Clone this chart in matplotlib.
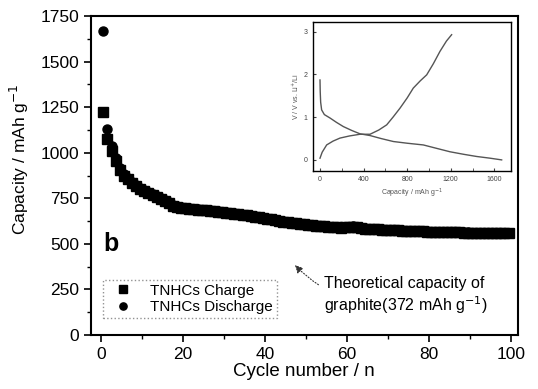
import numpy as np
import matplotlib.pyplot as plt

plt.rcParams['font.family'] = ['Liberation Sans', 'DejaVu Sans']

# main cycling data
cycle = np.arange(1, 101) - 0.5
charge = [1225, 1075, 1010, 955, 905, 875, 855, 835, 815, 800,
          790, 780, 770, 755, 745, 735, 722, 710, 702, 698,
          695, 692, 690, 688, 686, 684, 682, 680, 677, 674,
          671, 668, 665, 662, 660, 657, 654, 650, 646, 642,
          638, 634, 630, 626, 622, 619, 616, 613, 610, 607,
          604, 602, 600, 598, 596, 594, 592, 590, 588, 590,
          592, 595, 592, 587, 584, 582, 580, 579, 578, 577,
          576, 575, 574, 573, 572, 571, 570, 569, 568, 567,
          566, 566, 565, 565, 564, 564, 563, 563, 562, 562,
          561, 561, 560, 560, 560, 559, 559, 559, 558, 558]
discharge = [1670, 1128, 1035, 970, 918, 885, 862, 842, 822, 806,
             795, 785, 774, 760, 750, 740, 727, 714, 705, 700,
             697, 694, 692, 690, 688, 686, 684, 682, 679, 676,
             673, 670, 667, 664, 661, 658, 655, 651, 647, 643,
             639, 635, 631, 627, 623, 620, 617, 614, 611, 608,
             605, 603, 601, 599, 597, 595, 593, 591, 589, 591,
             594, 597, 593, 588, 585, 583, 581, 580, 579, 578,
             577, 576, 575, 574, 573, 572, 571, 570, 569, 568,
             567, 567, 566, 566, 565, 565, 564, 564, 563, 563,
             562, 562, 561, 561, 561, 560, 560, 560, 559, 559]

# inset voltage profiles
ins_dis_cap = [0, 2, 6, 15, 40, 92, 150, 214, 290, 367, 459, 560, 673, 800,
               948, 1070, 1193, 1320, 1437, 1560, 1667]
ins_dis_v = [1.87, 1.60, 1.35, 1.17, 1.06, 0.98, 0.88, 0.78, 0.69, 0.61, 0.57,
             0.50, 0.43, 0.39, 0.35, 0.27, 0.19, 0.13, 0.08, 0.04, 0.0]
ins_chg_cap = [0, 20, 61, 120, 183, 270, 367, 459, 540, 612, 670, 734, 800,
               856, 920, 979, 1040, 1101, 1160, 1208]
ins_chg_v = [0.04, 0.18, 0.35, 0.44, 0.51, 0.56, 0.60, 0.60, 0.70, 0.82, 1.00,
             1.21, 1.45, 1.68, 1.85, 1.99, 2.25, 2.54, 2.78, 2.93]

W, H = 538, 389
fig = plt.figure(figsize=(W / 100, H / 100), dpi=100)
ax = fig.add_axes([90.7 / W, 1 - 335 / H, (518 - 90.7) / W, (335 - 16) / H])

ax.plot(cycle, charge, 's', color='black', ms=6.5, label='TNHCs Charge')
ax.plot(cycle, discharge, 'o', color='black', ms=6.5, label='TNHCs Discharge')

ax.set_xlim(-2.6, 101.8)
ax.set_ylim(0, 1750)
ax.set_xticks(range(0, 101, 20))
ax.set_xticks(range(10, 101, 20), minor=True)
ax.set_yticks(range(0, 1751, 250))
ax.set_yticks(range(125, 1750, 250), minor=True)
ax.tick_params(which='major', direction='out', length=5, width=1.2, labelsize=12.5)
ax.tick_params(which='minor', direction='out', length=3, width=1)
for s in ax.spines.values():
    s.set_linewidth(1.5)

ax.set_xlabel('Cycle number / n', fontsize=13.5, labelpad=1)
ax.set_ylabel('Capacity / mAh g$^{-1}$', fontsize=12.5, labelpad=4)
ax.yaxis.set_label_coords(-0.14, 0.55)

ax.text(0.5, 500, 'b', fontsize=18, fontweight='bold', va='center')

leg = ax.legend(loc='lower left', bbox_to_anchor=(0.012, 0.03), fontsize=11,
                frameon=True, fancybox=False, handletextpad=0.8, markerscale=0.8,
                borderpad=0.25, labelspacing=0.15, handlelength=2.0)
leg.get_frame().set_edgecolor('#777777')
leg.get_frame().set_linestyle(':')
leg.get_frame().set_linewidth(1)

ax.annotate('Theoretical capacity of\ngraphite(372 mAh g$^{-1}$)',
            xy=(47.3, 384), xytext=(54.3, 215), fontsize=11.5, va='center',
            arrowprops=dict(arrowstyle='-|>', color='#333333', lw=0.8,
                            linestyle=':', connectionstyle='arc3,rad=-0.3',
                            shrinkA=2, shrinkB=0))

# inset
ins = fig.add_axes([312.7 / W, 1 - 171 / H, (510.7 - 312.7) / W, (171 - 22.3) / H])
ins.plot(ins_dis_cap, ins_dis_v, color='#555555', lw=1)
ins.plot(ins_chg_cap, ins_chg_v, color='#555555', lw=1)
ins.set_xlim(-67, 1750)
ins.set_ylim(-0.26, 3.22)
ins.set_xticks(range(0, 1601, 400))
ins.set_xticks(range(200, 1700, 400), minor=True)
ins.set_yticks([0, 1, 2, 3])
ins.tick_params(which='both', direction='in', labelsize=5, length=2, colors='#444444')
ins.set_xlabel('Capacity / mAh g$^{-1}$', fontsize=5, color='#555555', labelpad=3)
ins.set_ylabel('V / V vs. Li$^{+}$/Li', fontsize=5, color='#555555', labelpad=2)
for s in ins.spines.values():
    s.set_linewidth(1)

fig.savefig('out.png', dpi=100)
